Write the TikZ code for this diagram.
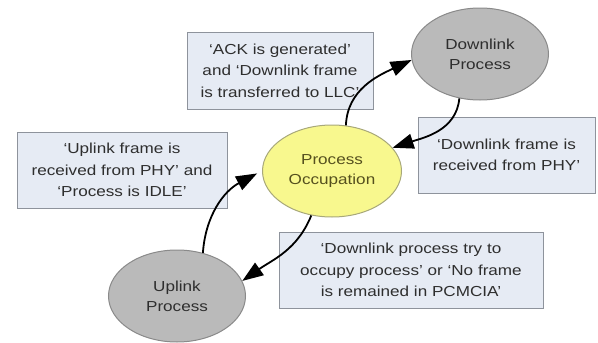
\documentclass[tikz,border=0pt]{standalone}
\usepackage{fontspec}
\setmainfont{Liberation Sans}[FakeStretch=1.18]
\usetikzlibrary{arrows.meta,shapes.geometric}
\definecolor{boxfill}{HTML}{E6EBF4}
\definecolor{boxline}{HTML}{8E939C}
\definecolor{boxtext}{HTML}{2E2E2E}
\definecolor{grayfill}{HTML}{BABABA}
\definecolor{grayline}{HTML}{8A8A8A}
\definecolor{yelfill}{HTML}{F8F88E}
\definecolor{yelline}{HTML}{A8A87A}
\definecolor{yeltext}{HTML}{55501E}
\tikzset{
  state/.style={ellipse, draw=grayline, line width=1pt, fill=grayfill,
    minimum width=137pt, minimum height=92pt, inner sep=0pt, align=center,
    text=boxtext, font=\fontsize{14.5}{20}\selectfont},
  occstate/.style={state, fill=yelfill, draw=yelline, minimum width=139pt, text=yeltext},
  cond/.style={draw=boxline, line width=1pt, fill=boxfill, inner sep=0pt,
    align=center, text=boxtext, font=\fontsize{14.5}{21.5}\selectfont},
  flow/.style={line width=1.8pt, -{Triangle[length=21pt,width=15pt]}}
}
\begin{document}
\begin{tikzpicture}[x=1pt,y=-1pt]
\useasboundingbox (0,0) rectangle (598,343);
% states
\node[state] (down) at (480,54) {Downlink\\Process};
\node[occstate] (occ) at (332,171) {Process\\Occupation};
\node[state] (up) at (177,296) {Uplink\\Process};
% condition boxes
\node[cond, minimum width=186pt, minimum height=77pt] (ack) at (280,70.5)
  {`ACK is generated'\\and `Downlink frame\\is transferred to LLC'};
\node[cond, minimum width=210pt, minimum height=76pt] (ulrx) at (122,170)
  {`Uplink frame is\\received from PHY' and\\`Process is IDLE'};
\node[cond, minimum width=177pt, minimum height=76pt] (dlrx) at (506.5,155)
  {`Downlink frame is\\received from PHY'};
\node[cond, minimum width=264pt, minimum height=76pt] (try) at (411,270)
  {`Downlink process try to\\occupy process' or `No frame\\is remained in PCMCIA'};
% transitions
\draw[flow] (occ.73) to[out=88,in=205] (down.185);
\draw[flow] (down.245) to[out=-95,in=18] (occ.21);
\draw[flow] (up.59) to[out=86,in=208] ([xshift=-5pt]occ.182);
\draw[flow] (occ.245) to[out=-112,in=35] (up.13);
\end{tikzpicture}
\end{document}
